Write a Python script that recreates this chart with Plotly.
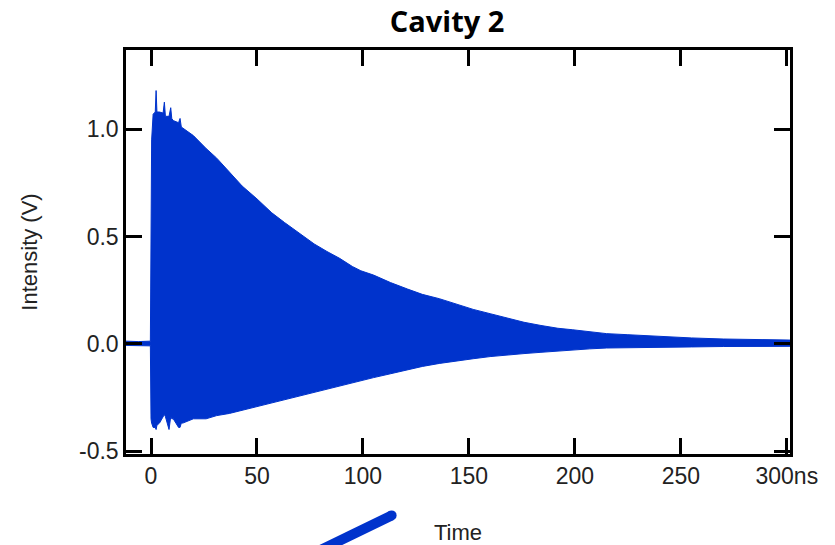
import plotly.graph_objects as go

# Ring-down envelope (time in ns, intensity in V)
time_ns = [-11.8, -6.0, -0.3, 0.0, 0.3, 1.0, 2.0, 2.4, 2.8, 4.0, 5.7, 6.3, 6.8, 8.5, 9.3, 9.8,
           10.5, 13.0, 13.7, 14.3, 15.0, 20.0, 26.0, 31.0, 37.0, 43.0, 50.0, 57.0, 63.0, 70.0,
           77.0, 83.0, 89.0, 95.0, 99.0, 105.0, 113.0, 121.0, 128.0, 136.0, 144.0, 152.0, 160.0,
           168.0, 176.0, 184.0, 192.0, 199.0, 207.0, 215.0, 225.0, 240.0, 255.0, 270.0, 287.0, 301.5]
upper_v = [0.012, 0.010, 0.012, 0.93, 0.95, 1.07, 1.08, 1.18, 1.08, 1.08, 1.075, 1.126, 1.06, 1.06, 1.10, 1.05,
           1.04, 1.03, 1.05, 1.01, 1.005, 0.97, 0.91, 0.865, 0.80, 0.735, 0.675, 0.61, 0.565, 0.515,
           0.465, 0.43, 0.398, 0.36, 0.34, 0.32, 0.285, 0.255, 0.23, 0.21, 0.185, 0.16, 0.14,
           0.12, 0.10, 0.085, 0.072, 0.065, 0.055, 0.047, 0.042, 0.033, 0.027, 0.022, 0.018, 0.017]
lower_v = [-0.008, -0.010, -0.010, -0.35, -0.37, -0.39, -0.39, -0.40, -0.38, -0.37, -0.34, -0.33, -0.34, -0.40, -0.34, -0.35,
           -0.35, -0.39, -0.39, -0.37, -0.37, -0.35, -0.35, -0.335, -0.325, -0.31, -0.293, -0.277, -0.26, -0.243,
           -0.228, -0.212, -0.196, -0.183, -0.173, -0.158, -0.14, -0.122, -0.106, -0.092, -0.08, -0.07, -0.06,
           -0.052, -0.046, -0.04, -0.034, -0.028, -0.024, -0.02, -0.018, -0.017, -0.015, -0.013, -0.013, -0.012]

x_tick_vals = [0, 50, 100, 150, 200, 250, 300]
x_tick_text = ["0", "50", "100", "150", "200", "250", "300ns"]
y_tick_vals = [-0.5, 0.0, 0.5, 1.0]
y_tick_text = ["-0.5", "0.0", "0.5", "1.0"]

BLUE = "#0033cc"
FONT = "Liberation Sans, Arial"

fig = go.Figure()
fig.add_trace(go.Scatter(x=time_ns, y=lower_v, mode="lines",
                         line=dict(color=BLUE, width=1), showlegend=False, hoverinfo="skip"))
fig.add_trace(go.Scatter(x=time_ns, y=upper_v, mode="lines", fill="tonexty",
                         fillcolor=BLUE, line=dict(color=BLUE, width=1), showlegend=False))

axis_common = dict(showline=True, linecolor="black", linewidth=2.5, mirror="ticks",
                   ticks="inside", ticklen=16, tickwidth=2.5, tickcolor="black",
                   showgrid=False, zeroline=False,
                   tickfont=dict(family=FONT, size=23, color="#222222"))

fig.update_xaxes(range=[-11.8, 301.5], tickvals=x_tick_vals, ticktext=x_tick_text,
                 title=dict(text="Time", font=dict(family=FONT, size=22, color="#222222"),
                            standoff=38),
                 **axis_common)
fig.update_yaxes(range=[-0.514, 1.369], tickvals=y_tick_vals, ticktext=y_tick_text,
                 title=dict(text="Intensity (V)", font=dict(family=FONT, size=22, color="#222222"),
                            standoff=36),
                 **axis_common)

# page body has an 8px margin, so the figure is 8px smaller than the window
fig.update_layout(
    width=827, height=537,
    margin=dict(l=118, r=45, t=42, b=91, autoexpand=False),
    plot_bgcolor="white", paper_bgcolor="white",
    title=dict(text="<b>Cavity 2</b>", x=0.531, xanchor="center", y=0.975, yanchor="middle",
               font=dict(family="Open Sans, Lato", size=29, color="black")),
    shapes=[
        dict(type="line", xref="paper", yref="paper", x0=0.25, y0=-0.272, x1=0.400, y1=-0.152,
             line=dict(color=BLUE, width=10)),
        dict(type="circle", xref="paper", yref="paper", x0=0.400 - 5 / 664, x1=0.400 + 5 / 664,
             y0=-0.152 - 5 / 404, y1=-0.152 + 5 / 404, fillcolor=BLUE, line=dict(width=0)),
    ],
)

fig.write_html("out.html")
